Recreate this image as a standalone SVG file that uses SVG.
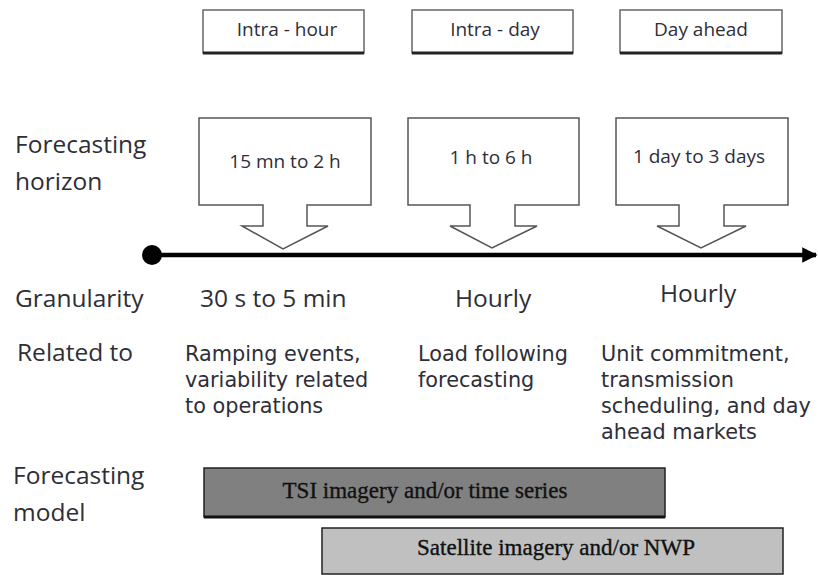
<svg xmlns="http://www.w3.org/2000/svg" width="818" height="575" viewBox="0 0 818 575">
<style>
.t{font-family:"Open Sans","Liberation Sans",sans-serif;fill:#2e2e38}
.lab{font-size:24.5px}
.rel{font-family:"DejaVu Sans","Open Sans",sans-serif;font-size:20.8px;fill:#2e2e38}
.small{font-size:19px}
.box{fill:#fff;stroke:#555;stroke-width:1.5}
.tbox{fill:#fff;stroke:#666;stroke-width:1.5}
.tbar{stroke:#222;stroke-width:1.5}
.bt{font-family:"Liberation Serif","Times New Roman",serif;font-size:23px;fill:#111;stroke:#111;stroke-width:0.35}
</style>
<defs>
<marker id="ah" viewBox="0 0 10 10" refX="9" refY="5" markerWidth="3.4" markerHeight="3.4" orient="auto"><path d="M0,0 L10,5 L0,10 z" fill="#000"/></marker>
</defs>
<rect width="818" height="575" fill="#fff"/>

<g id="top-boxes">
<g id="intra-hour"><rect class="tbox" x="203" y="10" width="161" height="43"/><line x1="203" y1="53" x2="364" y2="53" stroke="#222" stroke-width="3"/><text class="t small" x="287" y="36" text-anchor="middle">Intra - hour</text></g>
<g id="intra-day"><rect class="tbox" x="412" y="10" width="161" height="43"/><line x1="412" y1="53" x2="573" y2="53" stroke="#222" stroke-width="3"/><text class="t small" x="495" y="36" text-anchor="middle">Intra - day</text></g>
<g id="day-ahead"><rect class="tbox" x="620" y="10" width="162" height="43"/><line x1="620" y1="53" x2="782" y2="53" stroke="#222" stroke-width="3"/><text class="t small" x="701" y="36" text-anchor="middle">Day ahead</text></g>
</g>

<g id="labels">
<text class="t lab" x="15" y="153">Forecasting</text>
<text class="t lab" x="15" y="190">horizon</text>
<text class="t lab" x="15" y="307">Granularity</text>
<text class="t lab" x="17" y="361">Related to</text>
<text class="t lab" x="13" y="484">Forecasting</text>
<text class="t lab" x="13" y="521">model</text>
</g>

<g id="callout-1">
<path class="box" d="M199,118 H371 V205 H307 V226 H328 L283,249 L242,226 H263 V205 H199 Z"/>
<text class="t small" x="285" y="168" text-anchor="middle">15 mn to 2 h</text>
</g>
<g id="callout-2">
<path class="box" d="M408,118 H579 V205 H515 V226 H537 L492,248 L450,226 H470 V205 H408 Z"/>
<text class="t small" x="491" y="164" text-anchor="middle">1 h to 6 h</text>
</g>
<g id="callout-3">
<path class="box" d="M616,118 H788 V205 H724 V226 H746 L701,248 L657,226 H679 V205 H616 Z"/>
<text class="t small" x="699" y="163" text-anchor="middle">1 day to 3 days</text>
</g>

<g id="connectors">
<line x1="152" y1="255" x2="816" y2="255" stroke="#000" stroke-width="4.5" marker-end="url(#ah)"/>
<circle cx="152" cy="255" r="10" fill="#000"/>
</g>

<g id="granularity">
<text class="t lab" x="200" y="307">30 s to 5 min</text>
<text class="t lab" x="455" y="307">Hourly</text>
<text class="t lab" x="660" y="302">Hourly</text>
</g>

<g id="related">
<text class="rel" x="185" y="361">Ramping events,</text>
<text class="rel" x="185" y="387">variability related</text>
<text class="rel" x="185" y="413">to operations</text>
<text class="rel" x="418" y="361">Load following</text>
<text class="rel" x="418" y="387">forecasting</text>
<text class="rel" x="601" y="361">Unit commitment,</text>
<text class="rel" x="601" y="387">transmission</text>
<text class="rel" x="601" y="413">scheduling, and day</text>
<text class="rel" x="601" y="439">ahead markets</text>
</g>

<g id="tsi-bar">
<rect class="tbar" x="204" y="468" width="461" height="49" fill="#808080"/>
<line x1="204" y1="517" x2="665" y2="517" stroke="#111" stroke-width="3"/>
<text class="bt" x="425" y="498" text-anchor="middle">TSI imagery and/or time series</text>
</g>
<g id="satellite-bar">
<rect class="tbar" x="322" y="528" width="461" height="46" fill="#c0c0c0"/>
<text class="bt" x="556" y="555" text-anchor="middle">Satellite imagery and/or NWP</text>
</g>
</svg>
